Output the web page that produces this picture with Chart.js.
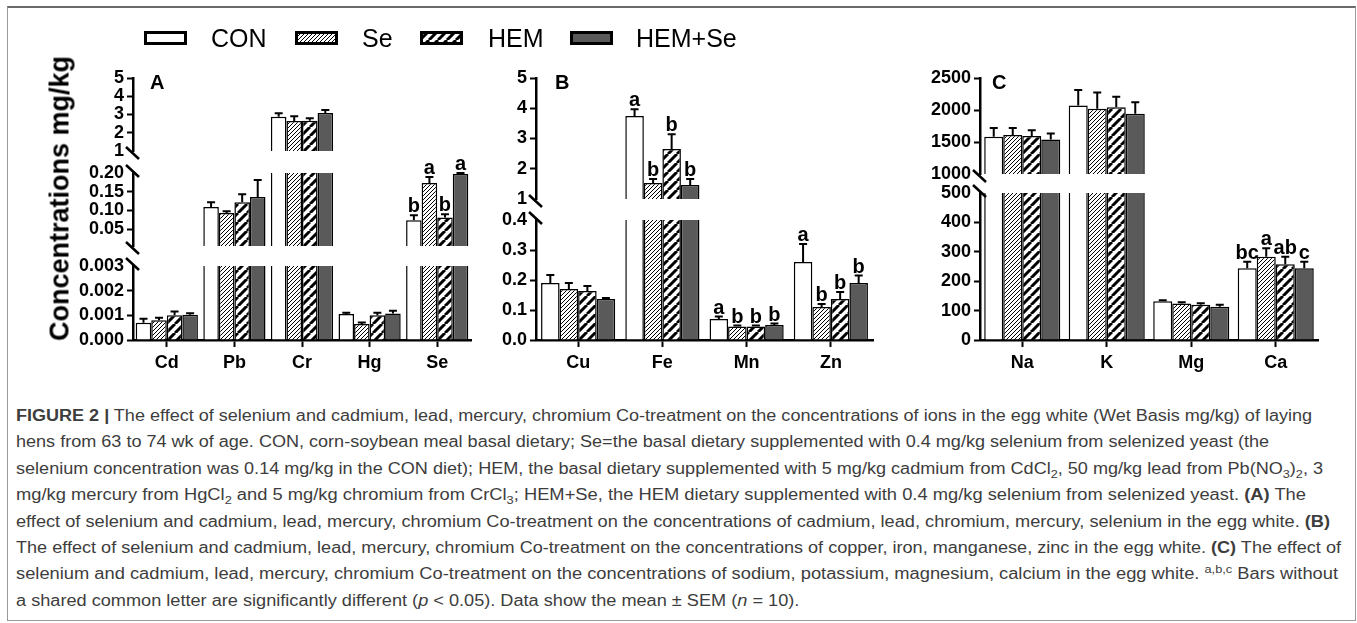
<!DOCTYPE html>
<html>
<head>
<meta charset="utf-8">
<title>Figure 2</title>
<script src="https://cdn.jsdelivr.net/npm/chart.js@4.4.1/dist/chart.umd.min.js"></script>
<style>
  html, body { margin: 0; padding: 0; background: #fff; }
  body { position: relative; width: 1357px; height: 623px; overflow: hidden; font-family: "Liberation Sans", Arial, sans-serif; color: #000; }
  .frame { position: absolute; left: 7px; top: 6px; width: 1349px; height: 615px; border: 1px solid #9a9a9a; border-top: 2px solid #6a6a6a; box-sizing: border-box; }
  canvas.seg { position: absolute; }
  .lg { position: absolute; top: 26px; font-size: 25px; line-height: 25px; white-space: nowrap; }
  .sw { position: absolute; top: 31px; }
  .ptag { position: absolute; top: 72px; font-weight: bold; font-size: 20px; line-height: 20px; }
  .ytitle { position: absolute; left: -100px; top: 185px; width: 320px; text-align: center; font-weight: bold; font-size: 27px; line-height: 27px; white-space: nowrap; transform: rotate(-90deg); }
  .cap { position: absolute; left: 16px; white-space: nowrap; font-size: 16px; line-height: 20px; color: #3d3d3d; transform-origin: 0 0; }
  .cap sub, .cap sup { font-size: 0.7em; line-height: 0; }
</style>
</head>
<body>
<div class="frame"></div>

<script>
const SERIES = ["CON", "Se", "HEM", "HEM+Se"];

// panel A: heavy metals
const catsA = ["Cd", "Pb", "Cr", "Hg", "Se"];
const meanA = [
  [0.0007, 0.109, 2.87, 0.00105, 0.074],
  [0.0008, 0.093, 2.64, 0.00065, 0.173],
  [0.0010, 0.122, 2.66, 0.00100, 0.081],
  [0.00102, 0.136, 3.08, 0.00107, 0.197],
];
const semA = [
  [0.00016, 0.013, 0.20, 0.00005, 0.013],
  [0.00010, 0.005, 0.26, 0.00006, 0.016],
  [0.00016, 0.021, 0.14, 0.00010, 0.009],
  [0.00006, 0.045, 0.16, 0.00012, 0.003],
];
const letA = [["", "", "", "", "b"], ["", "", "", "", "a"], ["", "", "", "", "b"], ["", "", "", "", "a"]];
const rangeA = [[0, 0.003], [0.005, 0.2], [1, 5]];
const tickA = [[0, 0.001, 0.002, 0.003], [0.05, 0.1, 0.15, 0.2], [1, 2, 3, 4, 5]];
const tickLabA = [["0.000", "0.001", "0.002", "0.003"], ["0.05", "0.10", "0.15", "0.20"], ["1", "2", "3", "4", "5"]];

// panel B: trace elements
const catsB = ["Cu", "Fe", "Mn", "Zn"];
const meanB = [
  [0.19, 3.74, 0.07, 0.26],
  [0.17, 1.53, 0.045, 0.11],
  [0.163, 2.65, 0.045, 0.137],
  [0.137, 1.46, 0.05, 0.19],
];
const semB = [
  [0.027, 0.23, 0.008, 0.06],
  [0.02, 0.13, 0.003, 0.01],
  [0.017, 0.49, 0.003, 0.023],
  [0.003, 0.2, 0.005, 0.025],
];
const letB = [["", "a", "a", "a"], ["", "b", "b", "b"], ["", "b", "b", "b"], ["", "b", "b", "b"]];
const rangeB = [[0, 0.4], [1, 5]];
const tickB = [[0, 0.1, 0.2, 0.3, 0.4], [1, 2, 3, 4, 5]];
const tickLabB = [["0.0", "0.1", "0.2", "0.3", "0.4"], ["1", "2", "3", "4", "5"]];

// panel C: macro elements
const catsC = ["Na", "K", "Mg", "Ca"];
const meanC = [
  [1581, 2069, 132, 244],
  [1608, 2018, 124, 283],
  [1592, 2043, 120, 258],
  [1541, 1941, 113, 244],
];
const semC = [
  [139, 242, 3, 22],
  [112, 256, 4, 29],
  [93, 165, 5, 25],
  [93, 179, 7, 22],
];
const letC = [["", "", "", "bc"], ["", "", "", "a"], ["", "", "", "ab"], ["", "", "", "c"]];
const rangeC = [[0, 500], [1000, 2500]];
const tickC = [[0, 100, 200, 300, 400, 500], [1000, 1500, 2000, 2500]];
const tickLabC = [["0", "100", "200", "300", "400", "500"], ["1000", "1500", "2000", "2500"]];

// page layout (pixels)
const panels = [
  { cats: catsA, mean: meanA, sem: semA, letters: letA, ranges: rangeA, ticks: tickA, tickLabels: tickLabA,
    x0: 133, x1: 471, segY: [[266, 340], [173, 246], [78, 151]], catPct: 0.92 },
  { cats: catsB, mean: meanB, sem: semB, letters: letB, ranges: rangeB, ticks: tickB, tickLabels: tickLabB,
    x0: 536, x1: 873, segY: [[220, 340], [78, 199]], catPct: 0.88 },
  { cats: catsC, mean: meanC, sem: semC, letters: letC, ranges: rangeC, ticks: tickC, tickLabels: tickLabC,
    x0: 980, x1: 1318, segY: [[193, 340], [78, 174]], catPct: 0.9 },
];

const AXW = 75, PAD_TOP = 32, PAD_BOT = 14, XAXIS_H = 48;
const TICK_FONT = { family: "Liberation Sans", weight: "bold", size: 18 };

function hatchTile(size, lw) {
  const c = document.createElement("canvas");
  c.width = c.height = size;
  const g = c.getContext("2d");
  g.fillStyle = "#fff";
  g.fillRect(0, 0, size, size);
  g.strokeStyle = "#000";
  g.lineWidth = lw;
  g.beginPath();
  for (const o of [-size, 0, size]) {
    g.moveTo(o, size);
    g.lineTo(o + size, 0);
  }
  g.stroke();
  return c;
}
const tiles = [null, hatchTile(4, 1), hatchTile(9, 3), null];

function fillFor(k, ctx) {
  if (k === 0) return "#ffffff";
  if (k === 3) return "#5a5a5a";
  return ctx.createPattern(tiles[k], "repeat");
}

function segOf(ranges, v) {
  for (let s = ranges.length - 1; s >= 0; s--) if (v >= ranges[s][0]) return s;
  return 0;
}

// error bars, letters and axis-break marks for one segment
function extras(P, s) {
  const nSeg = P.ranges.length;
  return {
    id: "extras",
    afterDatasetsDraw(chart) {
      const { ctx } = chart;
      const y = chart.scales.y;
      ctx.save();
      ctx.strokeStyle = "#000";
      ctx.fillStyle = "#000";
      ctx.lineWidth = 2;
      ctx.font = 'bold 20px "Liberation Sans", Arial, sans-serif';
      ctx.textAlign = "center";
      P.mean.forEach((row, k) => row.forEach((v, i) => {
        if (segOf(P.ranges, v) !== s) return;
        const bar = chart.getDatasetMeta(k).data[i];
        const y0 = y.getPixelForValue(v);
        const y1 = y.getPixelForValue(v + P.sem[k][i]);
        ctx.beginPath();
        ctx.moveTo(bar.x, y0);
        ctx.lineTo(bar.x, y1);
        ctx.moveTo(bar.x - 4, y1);
        ctx.lineTo(bar.x + 4, y1);
        ctx.stroke();
        const t = P.letters[k][i];
        if (t) ctx.fillText(t, bar.x, y1 - 3);
      }));
      ctx.restore();
    },
    afterDraw(chart) {
      const { ctx, chartArea } = chart;
      const ax = chartArea.left - 1;
      const ends = [];
      if (s < nSeg - 1) ends.push(chartArea.top - 2);
      if (s > 0) ends.push(chartArea.bottom + 2);
      ctx.save();
      ctx.strokeStyle = "#000";
      ctx.lineWidth = 2.5;
      ctx.beginPath();
      ends.forEach((yy) => {
        ctx.moveTo(ax - 6, yy - 6);
        ctx.lineTo(ax + 7, yy + 6);
      });
      ctx.stroke();
      ctx.restore();
    },
  };
}

function makeSegment(P, s) {
  const [yTop, yBot] = P.segY[s];
  const isBottom = s === 0;
  const padBot = isBottom ? 0 : PAD_BOT;
  const width = AXW + (P.x1 - P.x0) + 8;
  const height = PAD_TOP + (yBot - yTop) + padBot + (isBottom ? XAXIS_H : 0);
  const canvas = document.createElement("canvas");
  canvas.className = "seg";
  canvas.width = width;
  canvas.height = height;
  canvas.style.left = P.x0 - AXW + "px";
  canvas.style.top = yTop - PAD_TOP + "px";
  document.body.appendChild(canvas);

  const [lo, hi] = P.ranges[s];
  const hidden = [];
  if (s < P.ranges.length - 1) hidden.push(hi);
  if (s > 0) hidden.push(lo);
  const tickVals = P.ticks[s];
  const tickLabs = P.tickLabels[s];

  new Chart(canvas, {
    type: "bar",
    data: {
      labels: P.cats,
      datasets: SERIES.map((name, k) => ({
        label: name,
        data: P.mean[k],
        backgroundColor: (c) => fillFor(k, c.chart.ctx),
        borderColor: "#000",
        borderWidth: 1.5,
        borderSkipped: "start",
        barPercentage: 1,
        categoryPercentage: P.catPct,
        clip: { top: 0, bottom: 0, left: false, right: false },
      })),
    },
    options: {
      responsive: false,
      animation: false,
      events: [],
      layout: { padding: { top: PAD_TOP, bottom: padBot, left: 0, right: 8 } },
      plugins: { legend: { display: false }, tooltip: { enabled: false } },
      scales: {
        x: {
          display: isBottom,
          afterFit: (sc) => { if (isBottom) sc.height = XAXIS_H; },
          grid: { drawOnChartArea: false, offset: false, tickLength: 7, tickWidth: 2, tickColor: "#000" },
          border: { color: "#000", width: 2.5 },
          ticks: { color: "#000", font: TICK_FONT, padding: 5, maxRotation: 0 },
        },
        y: {
          min: lo,
          max: hi,
          afterFit: (sc) => { sc.width = AXW; },
          afterBuildTicks: (sc) => { sc.ticks = tickVals.map((v) => ({ value: v })); },
          grid: {
            drawOnChartArea: false,
            tickLength: 6,
            tickWidth: 2,
            tickColor: (c) => (c.tick && hidden.includes(c.tick.value) ? "rgba(0,0,0,0)" : "#000"),
          },
          border: { color: "#000", width: 2.5 },
          ticks: { color: "#000", font: TICK_FONT, padding: 3, autoSkip: false, callback: (v, i) => tickLabs[i] },
        },
      },
    },
    plugins: [extras(P, s)],
  });
}

panels.forEach((P) => P.segY.forEach((_, s) => makeSegment(P, s)));

// panel tags
[[150, "A"], [555, "B"], [992, "C"]].forEach(([x, t]) => {
  const d = document.createElement("div");
  d.className = "ptag";
  d.style.left = x + "px";
  d.textContent = t;
  document.body.appendChild(d);
});

// y axis title
const yt = document.createElement("div");
yt.className = "ytitle";
yt.textContent = "Concentrations mg/kg";
document.body.appendChild(yt);

// legend
const lgBox = [144, 295, 420, 570];
const lgText = [211, 362, 488, 636];
SERIES.forEach((name, k) => {
  const c = document.createElement("canvas");
  c.className = "sw";
  c.width = 43;
  c.height = 14;
  c.style.left = lgBox[k] + "px";
  document.body.appendChild(c);
  const g = c.getContext("2d");
  g.fillStyle = fillFor(k, g);
  g.fillRect(0, 0, 43, 14);
  g.strokeStyle = "#000";
  g.lineWidth = 3;
  g.strokeRect(1.5, 1.5, 40, 11);
  const t = document.createElement("div");
  t.className = "lg";
  t.style.left = lgText[k] + "px";
  t.textContent = name;
  document.body.appendChild(t);
});

// caption
const capLines = [
  "<b>FIGURE 2 |</b> The effect of selenium and cadmium, lead, mercury, chromium Co-treatment on the concentrations of ions in the egg white (Wet Basis mg/kg) of laying",
  "hens from 63 to 74 wk of age. CON, corn-soybean meal basal dietary; Se=the basal dietary supplemented with 0.4 mg/kg selenium from selenized yeast (the",
  "selenium concentration was 0.14 mg/kg in the CON diet); HEM, the basal dietary supplemented with 5 mg/kg cadmium from CdCl<sub>2</sub>, 50 mg/kg lead from Pb(NO<sub>3</sub>)<sub>2</sub>, 3",
  "mg/kg mercury from HgCl<sub>2</sub> and 5 mg/kg chromium from CrCl<sub>3</sub>; HEM+Se, the HEM dietary supplemented with 0.4 mg/kg selenium from selenized yeast. <b>(A)</b> The",
  "effect of selenium and cadmium, lead, mercury, chromium Co-treatment on the concentrations of cadmium, lead, chromium, mercury, selenium in the egg white. <b>(B)</b>",
  "The effect of selenium and cadmium, lead, mercury, chromium Co-treatment on the concentrations of copper, iron, manganese, zinc in the egg white. <b>(C)</b> The effect of",
  "selenium and cadmium, lead, mercury, chromium Co-treatment on the concentrations of sodium, potassium, magnesium, calcium in the egg white. <sup>a,b,c</sup> Bars without",
  "a shared common letter are significantly different (<i>p</i> &lt; 0.05). Data show the mean &plusmn; SEM (<i>n</i> = 10).",
];
const capRight = [1312, 1269, 1323, 1306, 1330, 1341, 1338, null];
const capEls = capLines.map((html, i) => {
  const d = document.createElement("div");
  d.className = "cap";
  d.innerHTML = html;
  d.style.top = Math.round(406 + i * 26.4) + "px";
  document.body.appendChild(d);
  return d;
});
const scales = [];
capEls.forEach((d, i) => {
  if (capRight[i] == null) return;
  const sx = (capRight[i] - 16) / d.getBoundingClientRect().width;
  scales.push(sx);
  d.style.transform = "scaleX(" + sx + ")";
});
const avg = scales.reduce((a, b) => a + b, 0) / scales.length;
capEls[7].style.transform = "scaleX(" + avg + ")";
</script>
</body>
</html>
